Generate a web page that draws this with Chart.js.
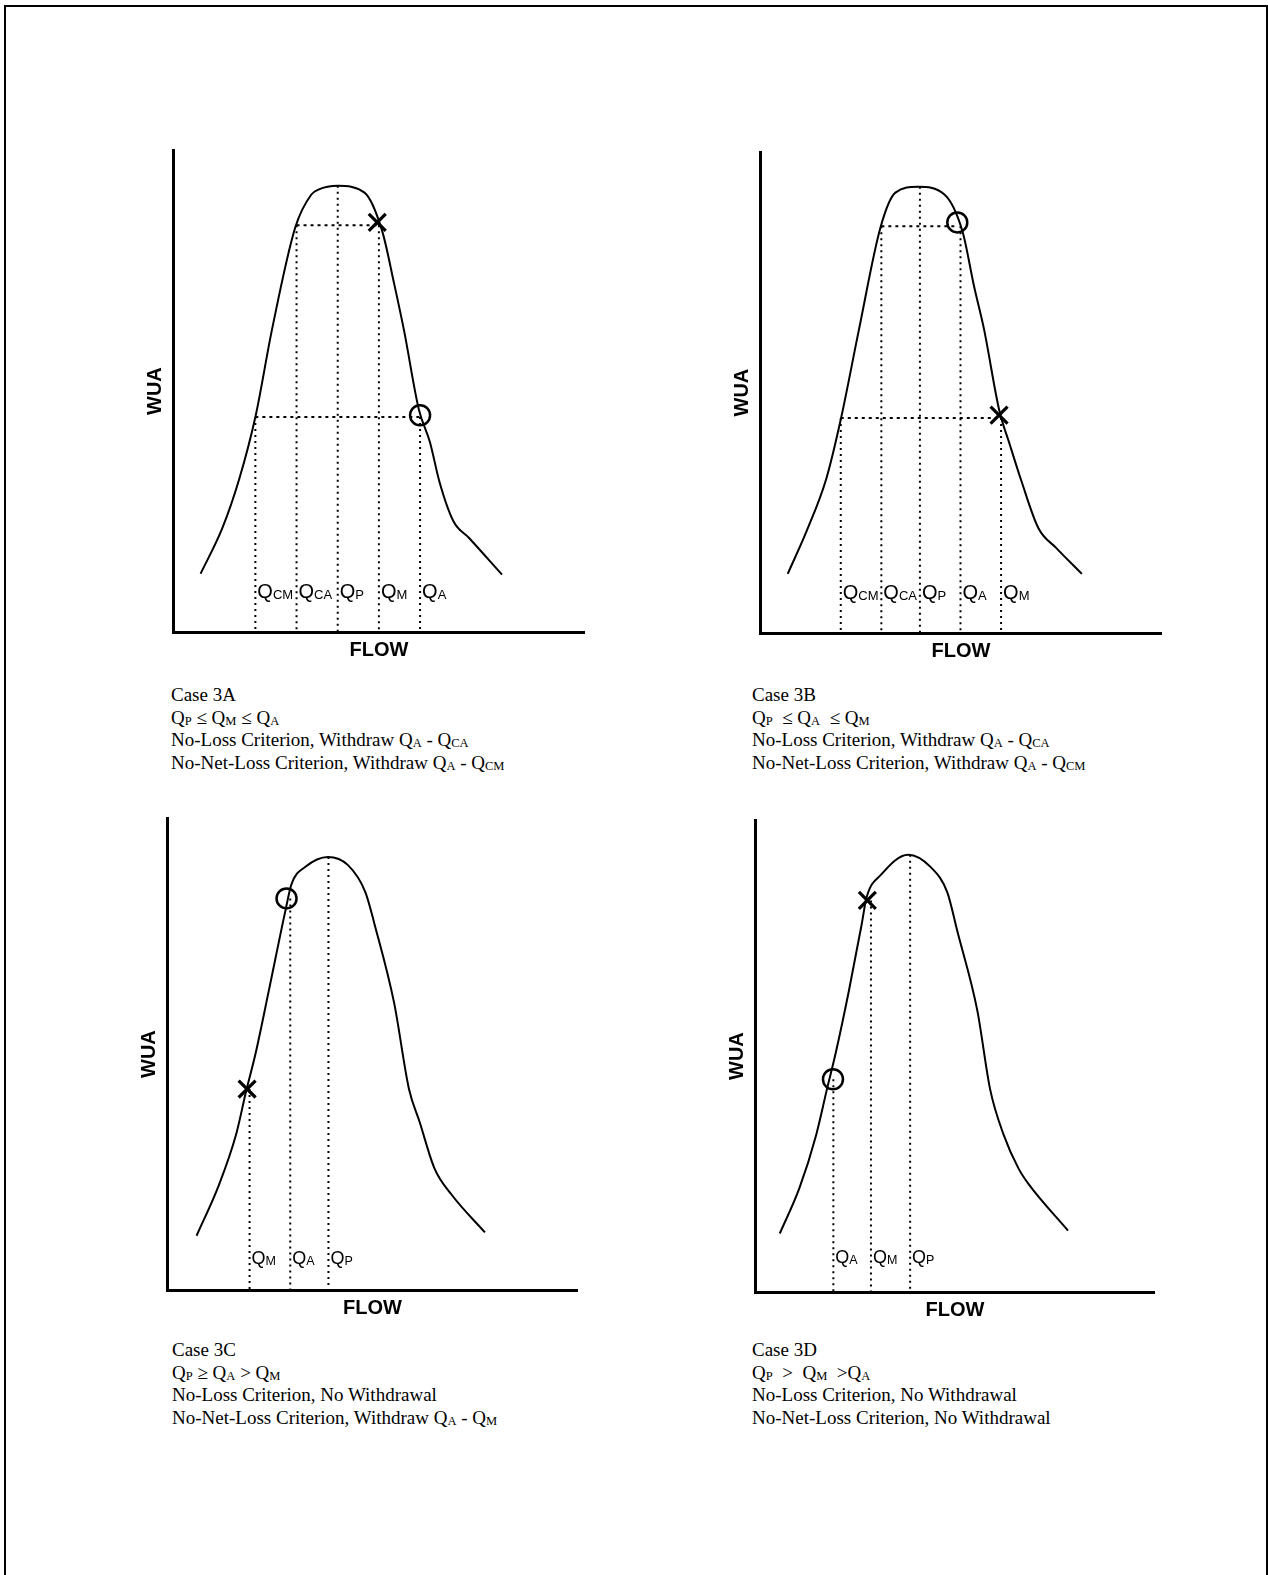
<!DOCTYPE html>
<html>
<head>
<meta charset="utf-8">
<script src="https://cdn.jsdelivr.net/npm/chart.js@4.4.0/dist/chart.umd.min.js"></script>
<style>
  body {
    margin: 0;
    width: 1268px;
    height: 1575px;
    overflow: hidden;
    position: relative;
    background: #fff;
    font-family: 'Liberation Serif', 'Times New Roman', serif;
  }
  .frame {
    position: absolute;
    left: 4px;
    top: 5px;
    width: 1260px;
    height: 1600px;
    border: 2px solid #000;
    border-bottom: none;
  }
  canvas { position: absolute; }
  .caption {
    position: absolute;
    font-size: 19px;
    line-height: 22.7px;
    color: #000;
    white-space: nowrap;
  }
  .caption sub {
    font-size: 12.5px;
    vertical-align: -1px;
    line-height: 0;
  }
</style>
</head>
<body>
<div class="frame"></div>

<canvas id="caseA"></canvas>
<canvas id="caseB"></canvas>
<canvas id="caseC"></canvas>
<canvas id="caseD"></canvas>

<div class="caption" style="left:171px; top:684px;">
  Case 3A<br>
  Q<sub>P</sub> ≤ Q<sub>M</sub> ≤ Q<sub>A</sub><br>
  No-Loss Criterion, Withdraw Q<sub>A</sub> - Q<sub>CA</sub><br>
  No-Net-Loss Criterion, Withdraw Q<sub>A</sub> - Q<sub>CM</sub>
</div>
<div class="caption" style="left:752px; top:684px;">
  Case 3B<br>
  Q<sub>P</sub> &nbsp;≤ Q<sub>A</sub> &nbsp;≤ Q<sub>M</sub><br>
  No-Loss Criterion, Withdraw Q<sub>A</sub> - Q<sub>CA</sub><br>
  No-Net-Loss Criterion, Withdraw Q<sub>A</sub> - Q<sub>CM</sub>
</div>
<div class="caption" style="left:172px; top:1339px;">
  Case 3C<br>
  Q<sub>P</sub> ≥ Q<sub>A</sub> &gt; Q<sub>M</sub><br>
  No-Loss Criterion, No Withdrawal<br>
  No-Net-Loss Criterion, Withdraw Q<sub>A</sub> - Q<sub>M</sub>
</div>
<div class="caption" style="left:752px; top:1339px;">
  Case 3D<br>
  Q<sub>P</sub> &nbsp;&gt; &nbsp;Q<sub>M</sub> &nbsp;&gt;Q<sub>A</sub><br>
  No-Loss Criterion, No Withdrawal<br>
  No-Net-Loss Criterion, No Withdrawal
</div>

<script>
// ==========================
// DATA (flow / WUA, 0-100 on each axis)
// ==========================

// Case 3A
const curveA_x = [6.7, 12.0, 16.1, 20.1, 24.0, 29.7, 33.6, 35.3, 40.0, 46.5, 50.8, 53.7, 56.1, 59.7, 62.4, 64.7, 68.1, 71.9, 79.9];
const curveA_y = [12.1, 21.6, 31.8, 45.0, 62.6, 84.0, 90.8, 91.8, 92.6, 91.2, 83.2, 72.3, 62.6, 46.2, 39.4, 31.2, 23.0, 19.5, 11.9];
const flowA = [20, 30, 40, 50, 60];
const subA = ['CM', 'CA', 'P', 'M', 'A'];
const topA = [44.6, 84.4, 92.6, 84.4, 44.6];
const levelsA = [[30, 50, 84.4], [20, 60, 44.6]];
const markA_x = [49.6, 60.0];
const markA_y = [85.0, 45.0];
const markA_style = ['crossRot', 'circle'];

// Case 3B
const curveB_x = [6.9, 11.8, 16.5, 20.1, 24.6, 30.0, 33.7, 39.3, 45.9, 50.4, 53.3, 55.8, 59.5, 62.2, 65.1, 69.3, 73.7, 80.1];
const curveB_y = [12.3, 21.6, 32.1, 44.4, 63.0, 84.4, 91.6, 92.8, 91.2, 83.5, 72.0, 63.0, 46.5, 39.1, 31.5, 21.8, 17.7, 12.3];
const flowB = [20.1, 30.2, 39.8, 49.9, 60.0];
const subB = ['CM', 'CA', 'P', 'A', 'M'];
const topB = [44.7, 84.6, 92.8, 84.6, 44.7];
const levelsB = [[30.2, 49.1, 84.6], [20.1, 59.5, 44.7]];
const markB_x = [49.1, 59.5];
const markB_y = [85.4, 45.3];
const markB_style = ['circle', 'crossRot'];

// Case 3C
const curveC_x = [7.2, 12.7, 16.8, 19.2, 21.6, 24.8, 28.8, 30.3, 33.7, 39.2, 44.0, 48.3, 50.5, 55.3, 58.9, 61.5, 65.1, 69.2, 77.4];
const curveC_y = [11.5, 22.4, 32.9, 41.9, 50.3, 63.5, 80.3, 86.0, 89.7, 91.8, 90.1, 84.3, 77.6, 60.8, 42.6, 35.6, 25.8, 20.3, 12.2];
const flowC = [20.1, 30.0, 39.3];
const subC = ['M', 'A', 'P'];
const topC = [42.6, 83.0, 91.8];
const markC_x = [19.5, 29.1];
const markC_y = [42.6, 83.0];
const markC_style = ['crossRot', 'circle'];

// Case 3D
const curveD_x = [6.2, 11.1, 15.3, 18.0, 20.2, 23.5, 26.7, 27.9, 31.6, 38.3, 43.9, 48.1, 50.6, 55.6, 58.8, 62.2, 65.9, 68.4, 78.3];
const curveD_y = [12.4, 22.0, 33.3, 43.0, 50.7, 63.9, 78.0, 83.6, 88.5, 92.7, 90.1, 84.7, 76.5, 59.7, 43.0, 33.3, 26.2, 22.9, 13.0];
const flowD = [19.6, 29.0, 38.8];
const subD = ['A', 'M', 'P'];
const topD = [45.1, 83.0, 92.7];
const markD_x = [19.5, 28.1];
const markD_y = [45.1, 83.0];
const markD_style = ['circle', 'crossRot'];


// ==========================
// BUILD ONE PANEL
// ==========================

const AXIS_W = 34;   // width taken by the WUA title
const PAD = 10;

function buildPanel(id, area, p) {

    const canvas = document.getElementById(id);
    canvas.width = (area.right - area.left) + AXIS_W + PAD;
    canvas.height = (area.bottom - area.top) + AXIS_W + PAD;
    canvas.style.left = (area.left - AXIS_W) + 'px';
    canvas.style.top = (area.top - PAD) + 'px';

    const datasets = [];

    // WUA curve
    datasets.push({
        data: p.cx.map((x, i) => ({ x: x, y: p.cy[i] })),
        showLine: true,
        borderColor: '#000',
        borderWidth: 2,
        pointRadius: 0,
        cubicInterpolationMode: 'monotone'
    });

    // vertical dotted lines down to the flow axis
    p.flow.forEach((q, i) => {
        datasets.push({
            data: [{ x: q, y: p.top[i] }, { x: q, y: 0 }],
            showLine: true,
            borderColor: '#000',
            borderWidth: 2,
            borderDash: [2, 4],
            pointRadius: 0
        });
    });

    // horizontal dotted lines
    (p.levels || []).forEach(l => {
        datasets.push({
            data: [{ x: l[0], y: l[2] }, { x: l[1], y: l[2] }],
            showLine: true,
            borderColor: '#000',
            borderWidth: 2,
            borderDash: [3, 4],
            pointRadius: 0
        });
    });

    // X and O marks
    datasets.push({
        data: p.mx.map((x, i) => ({ x: x, y: p.my[i] })),
        showLine: false,
        pointStyle: p.ms,
        pointRadius: p.ms.map(s => s === 'circle' ? 10 : 12),
        borderColor: '#000',
        backgroundColor: 'rgba(0,0,0,0)',
        pointBorderWidth: p.ms.map(s => s === 'circle' ? 2.5 : 3.2)
    });

    // Q labels next to the dotted lines
    const qLabels = {
        id: 'qLabels',
        afterDatasetsDraw(chart) {
            const ctx = chart.ctx;
            const xs = chart.scales.x;
            const ys = chart.scales.y;
            ctx.save();
            ctx.fillStyle = '#000';
            ctx.textBaseline = 'alphabetic';
            p.flow.forEach((q, i) => {
                let px = xs.getPixelForValue(q) + 2;
                const py = ys.getPixelForValue(p.labelY);
                ctx.font = p.qSize + 'px "Liberation Sans", Arial, sans-serif';
                ctx.fillText('Q', px, py);
                px += ctx.measureText('Q').width;
                ctx.font = p.subSize + 'px "Liberation Sans", Arial, sans-serif';
                ctx.fillText(p.sub[i], px, py + 1);
            });
            ctx.restore();
        }
    };

    const titleFont = { family: 'Liberation Sans', size: 20, weight: 'bold' };

    new Chart(canvas, {

        type: 'scatter',

        data: { datasets: datasets },

        options: {

            responsive: false,

            animation: false,

            layout: { padding: { top: PAD, right: PAD } },

            plugins: {
                legend: { display: false },
                tooltip: { enabled: false }
            },

            scales: {

                x: {
                    type: 'linear',
                    min: 0,
                    max: 100,
                    grid: { display: false, drawTicks: false, tickLength: 0 },
                    border: { display: true, color: '#000', width: 3 },
                    ticks: { display: false },
                    title: {
                        display: true,
                        text: 'FLOW',
                        color: '#000',
                        font: titleFont,
                        padding: { top: 6, bottom: 4 }
                    }
                },

                y: {
                    type: 'linear',
                    min: 0,
                    max: 100,
                    grid: { display: false, drawTicks: false, tickLength: 0 },
                    border: { display: true, color: '#000', width: 3 },
                    ticks: { display: false },
                    title: {
                        display: true,
                        text: 'WUA',
                        color: '#000',
                        font: titleFont,
                        padding: { top: 4, bottom: 6 }
                    }
                }

            }

        },

        plugins: [qLabels]

    });

}


buildPanel('caseA', { left: 173, top: 145, right: 590, bottom: 632 }, {
    cx: curveA_x, cy: curveA_y, flow: flowA, sub: subA, top: topA, levels: levelsA,
    mx: markA_x, my: markA_y, ms: markA_style, labelY: 7.0, qSize: 20, subSize: 13
});

buildPanel('caseB', { left: 760, top: 147, right: 1167, bottom: 633 }, {
    cx: curveB_x, cy: curveB_y, flow: flowB, sub: subB, top: topB, levels: levelsB,
    mx: markB_x, my: markB_y, ms: markB_style, labelY: 7.0, qSize: 20, subSize: 13
});

buildPanel('caseC', { left: 167, top: 813, right: 583, bottom: 1290 }, {
    cx: curveC_x, cy: curveC_y, flow: flowC, sub: subC, top: topC,
    mx: markC_x, my: markC_y, ms: markC_style, labelY: 5.5, qSize: 18, subSize: 12.5
});

buildPanel('caseD', { left: 755, top: 815, right: 1160, bottom: 1292 }, {
    cx: curveD_x, cy: curveD_y, flow: flowD, sub: subD, top: topD,
    mx: markD_x, my: markD_y, ms: markD_style, labelY: 6.1, qSize: 18, subSize: 12.5
});
</script>
</body>
</html>
